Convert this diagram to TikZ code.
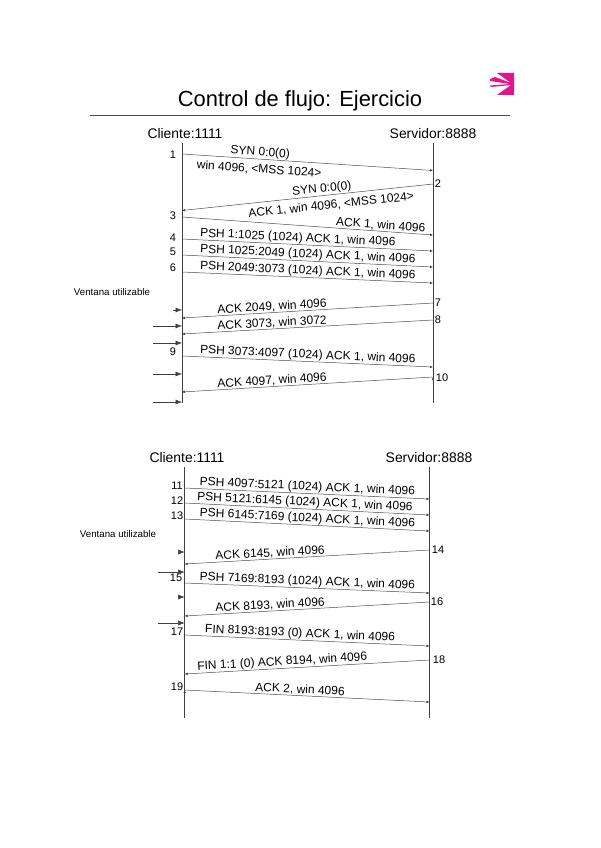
\documentclass[tikz,border=0pt]{standalone}
\usepackage{fontspec}
\setmainfont{Liberation Sans}
\usetikzlibrary{arrows.meta}
\definecolor{logopink}{HTML}{E5148C}

\begin{document}
\begin{tikzpicture}[
        x = 1pt, y = -1pt,
        >= {Latex[length = 3pt, width = 2.6pt]},
        lifeline/.style = {draw = black!75, line width = 0.6pt},
        msg/.style = {draw = black!70, line width = 0.5pt, ->},
        winarrow/.style = {draw = black!75, line width = 0.5pt, -{Latex[length = 6.5pt, width = 5pt]}},
        head/.style = {font = \fontsize{13.9}{13.9}\selectfont, inner sep = 0pt},
        num/.style = {font = \fontsize{11}{11}\selectfont, inner sep = 0pt},
        lab/.style = {font = \fontsize{12}{12}\selectfont, inner sep = 0.5pt, sloped, above},
        labdown/.style = {font = \fontsize{12}{12}\selectfont, inner sep = 5pt, sloped, below},
        usable/.style = {font = \fontsize{9.7}{9.7}\selectfont, inner sep = 0pt}
    ]
        \useasboundingbox (0,0) rectangle (600,848);

        % title and logo
        \node[font = \fontsize{21.9}{21.9}\selectfont, inner sep = 0pt] (title) at (300,101) {Control de flujo: Ejercicio};
        \coordinate (ruleL) at (90,115);
        \coordinate (ruleR) at (510,115);
        \draw[draw = black!70, line width = 0.6pt] (ruleL) -- (ruleR);
        \fill[logopink] (497,73) -- (514,73) -- (514,95) -- (497,95) -- (511,85) -- (491,87) -- (490,85.5) -- (510,84) -- (490,81) -- (490,79) -- (495,77) -- (511,83) -- cycle;

        % first exchange
        \node[head] (cli1) at (185,134) {Cliente:1111};
        \node[head] (srv1) at (433,134) {Servidor:8888};
        \coordinate (cliTop1) at (182,143);
        \coordinate (cliBot1) at (182,403);
        \coordinate (srvTop1) at (433,143);
        \coordinate (srvBot1) at (433,403);
        \draw[lifeline] (cliTop1) -- (cliBot1);
        \draw[lifeline] (srvTop1) -- (srvBot1);

        \coordinate (a1) at (182,154);   \coordinate (b1) at (433,170.5);
        \coordinate (a2) at (182,210.5); \coordinate (b2) at (433,184);
        \coordinate (a3) at (182,217);   \coordinate (b3) at (433,235);
        \coordinate (a4) at (182,239);   \coordinate (b4) at (433,251);
        \coordinate (a5) at (182,255);   \coordinate (b5) at (433,267);
        \coordinate (a6) at (182,272);   \coordinate (b6) at (433,283);
        \coordinate (a7) at (182,318);   \coordinate (b7) at (433,303);
        \coordinate (a8) at (182,334);   \coordinate (b8) at (433,320);
        \coordinate (a9) at (182,356);   \coordinate (b9) at (433,367);
        \coordinate (a10) at (182,392);  \coordinate (b10) at (433,377);

        \path[msg]
          (a1) edge node [lab, pos = 0.31] (l1) {SYN 0:0(0)}
                    node [labdown, pos = 0.31] (l1b) {win 4096, <MSS 1024>} (b1)
          (b2) edge node [lab, pos = 0.44] (l2) {SYN 0:0(0)}
                    node [labdown, pos = 0.41] (l2b) {ACK 1, win 4096, <MSS 1024>} (a2)
          (a3) edge node [lab, pos = 0.79] (l3) {ACK 1, win 4096} (b3)
          (a4) edge node [lab, pos = 0.46] (l4) {PSH 1:1025 (1024) ACK 1, win 4096} (b4)
          (a5) edge node [lab, pos = 0.50] (l5) {PSH 1025:2049 (1024) ACK 1, win 4096} (b5)
          (a6) edge node [lab, pos = 0.50] (l6) {PSH 2049:3073 (1024) ACK 1, win 4096} (b6)
          (b7) edge node [lab, pos = 0.64] (l7) {ACK 2049, win 4096} (a7)
          (b8) edge node [lab, pos = 0.64] (l8) {ACK 3073, win 3072} (a8)
          (a9) edge node [lab, pos = 0.50] (l9) {PSH 3073:4097 (1024) ACK 1, win 4096} (b9)
          (b10) edge node [lab, pos = 0.64] (l10) {ACK 4097, win 4096} (a10);

        \node[num] (n1) at (173,155) {1};
        \node[num] (n2) at (438,184) {2};
        \node[num] (n3) at (173,216) {3};
        \node[num] (n4) at (173,238) {4};
        \node[num] (n5) at (173,252) {5};
        \node[num] (n6) at (173,268) {6};
        \node[num] (n7) at (438,303) {7};
        \node[num] (n8) at (438,320) {8};
        \node[num] (n9) at (173,352) {9};
        \node[num] (n10) at (442,378) {10};

        \node[usable] (usable1) at (112,292) {Ventana utilizable};
        \coordinate (w1a) at (173,310); \coordinate (w1b) at (182,310);
        \coordinate (w2a) at (153,326); \coordinate (w2b) at (182,326);
        \coordinate (w3a) at (153,343); \coordinate (w3b) at (182,343);
        \coordinate (w4a) at (153,374); \coordinate (w4b) at (182,374);
        \coordinate (w5a) at (153,402); \coordinate (w5b) at (182,402);
        \draw[winarrow] (w1a) -- (w1b);
        \draw[winarrow] (w2a) -- (w2b);
        \draw[winarrow] (w3a) -- (w3b);
        \draw[winarrow] (w4a) -- (w4b);
        \draw[winarrow] (w5a) -- (w5b);

        % second exchange
        \node[head] (cli2) at (187,458) {Cliente:1111};
        \node[head] (srv2) at (429,458) {Servidor:8888};
        \coordinate (cliTop2) at (184.7,467);
        \coordinate (cliBot2) at (184.7,718);
        \coordinate (srvTop2) at (429.5,467);
        \coordinate (srvBot2) at (429.5,718);
        \draw[lifeline] (cliTop2) -- (cliBot2);
        \draw[lifeline] (srvTop2) -- (srvBot2);

        \coordinate (a11) at (184.7,488); \coordinate (b11) at (429.5,499);
        \coordinate (a12) at (184.7,503); \coordinate (b12) at (429.5,515);
        \coordinate (a13) at (184.7,519); \coordinate (b13) at (429.5,531);
        \coordinate (a14) at (184.7,564); \coordinate (b14) at (429.5,550);
        \coordinate (a15) at (184.7,583); \coordinate (b15) at (429.5,593);
        \coordinate (a16) at (184.7,616); \coordinate (b16) at (429.5,602);
        \coordinate (a17) at (184.7,635); \coordinate (b17) at (429.5,646);
        \coordinate (a18) at (184.7,674); \coordinate (b18) at (429.5,660);
        \coordinate (a19) at (184.7,690); \coordinate (b19) at (429.5,702);

        \path[msg]
          (a11) edge node [lab, pos = 0.50] (l11) {PSH 4097:5121 (1024) ACK 1, win 4096} (b11)
          (a12) edge node [lab, pos = 0.49] (l12) {PSH 5121:6145 (1024) ACK 1, win 4096} (b12)
          (a13) edge node [lab, pos = 0.50] (l13) {PSH 6145:7169 (1024) ACK 1, win 4096} (b13)
          (b14) edge node [lab, pos = 0.65] (l14) {ACK 6145, win 4096} (a14)
          (a15) edge node [lab, pos = 0.50] (l15) {PSH 7169:8193 (1024) ACK 1, win 4096} (b15)
          (b16) edge node [lab, pos = 0.65] (l16) {ACK 8193, win 4096} (a16)
          (a17) edge node [lab, pos = 0.47] (l17) {FIN 8193:8193 (0) ACK 1, win 4096} (b17)
          (b18) edge node [lab, pos = 0.60] (l18) {FIN 1:1 (0) ACK 8194, win 4096} (a18)
          (a19) edge node [lab, pos = 0.47] (l19) {ACK 2, win 4096} (b19);

        \node[num] (n11) at (177,486) {11};
        \node[num] (n12) at (177,501) {12};
        \node[num] (n13) at (177,516) {13};
        \node[num] (n14) at (438,550) {14};
        \node[num] (n15) at (176,578) {15};
        \node[num] (n16) at (437,602) {16};
        \node[num] (n17) at (177,632) {17};
        \node[num] (n18) at (439,660) {18};
        \node[num] (n19) at (177,687) {19};

        \node[usable] (usable2) at (118,534) {Ventana utilizable};
        \coordinate (w6a) at (178,552); \coordinate (w6b) at (184.7,552);
        \coordinate (w7a) at (158,572); \coordinate (w7b) at (184.7,572);
        \coordinate (w8a) at (178,597); \coordinate (w8b) at (184.7,597);
        \coordinate (w9a) at (158,623); \coordinate (w9b) at (184.7,623);
        \draw[winarrow] (w6a) -- (w6b);
        \draw[winarrow] (w7a) -- (w7b);
        \draw[winarrow] (w8a) -- (w8b);
        \draw[winarrow] (w9a) -- (w9b);
    \end{tikzpicture}
\end{document}
